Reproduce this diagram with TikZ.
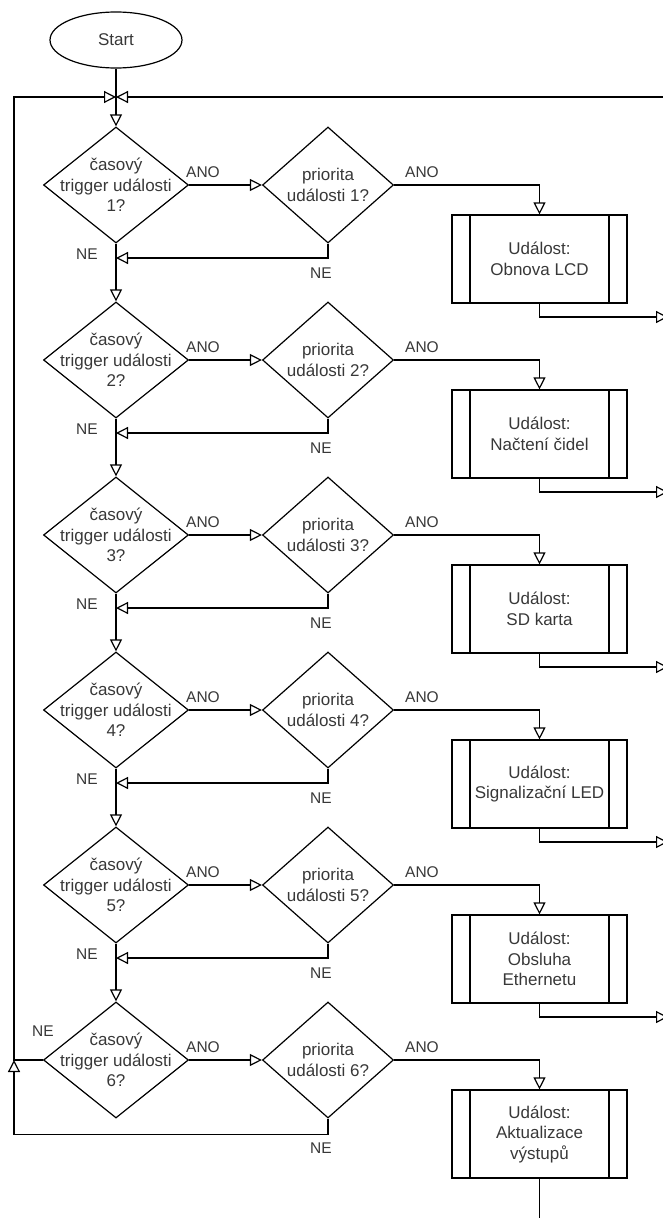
\documentclass[tikz,border=0pt]{standalone}
\usepackage{fontspec}
\setmainfont{Liberation Sans}
\usetikzlibrary{shapes.geometric,arrows.meta}
\begin{document}
\begin{tikzpicture}[x=1pt,y=-1pt,
  line width=1.2pt,
  every node/.style={text=black!78, font=\fontsize{17}{20.5}\selectfont},
  flow/.style={-{Triangle[open,length=12pt,width=12pt]}},
  trig/.style={draw, diamond, minimum width=145pt, minimum height=116pt, inner sep=0pt},
  prio/.style={draw, diamond, minimum width=131pt, minimum height=116pt, inner sep=0pt},
  proc/.style={draw, rectangle, minimum width=175pt, minimum height=88pt, inner sep=0pt, align=center,
    path picture={\draw[line width=1.2pt]
      ([xshift=18pt]path picture bounding box.north west) -- ([xshift=18pt]path picture bounding box.south west)
      ([xshift=-18pt]path picture bounding box.north east) -- ([xshift=-18pt]path picture bounding box.south east);}},
  lbl/.style={font=\fontsize{15.5}{18}\selectfont, inner sep=0pt},
]
\useasboundingbox (0,0) rectangle (662,1218);

\node[draw, ellipse, minimum width=132pt, minimum height=56pt, inner sep=0pt] (start) at (116,40) {Start};
\coordinate (j) at (116,97);
\coordinate (tl) at (14,97);
\coordinate (R) at (670,97);

\foreach \i/\bt in {1/{Událost:\\Obnova LCD},2/{Událost:\\Načtení čidel},3/{Událost:\\SD karta},4/{Událost:\\Signalizační LED},5/{Událost:\\Obsluha\\Ethernetu},6/{Událost:\\Aktualizace\\výstupů}}{
  \pgfmathsetmacro\cy{185+175*(\i-1)}
  \node[trig, label={[align=center]center:{časový\\trigger události\\\i?}}] (t\i) at (116,\cy) {};
  \node[prio, label={[align=center]center:{priorita\\události \i?}}] (p\i) at (328,\cy) {};
  \node[proc] (b\i) at (539.5,\cy+74) {\bt};
  \draw[flow] (t\i) -- (p\i);
  \draw[flow] (p\i.east) -| (b\i.north);
  \node[lbl] (anoA\i) at (203,\cy-13) {ANO};
  \node[lbl] (anoB\i) at (422,\cy-13) {ANO};
  \node[lbl] (neP\i) at (321,\cy+88) {NE};
}

\foreach \i [evaluate=\i as \j using int(\i+1)] in {1,...,5}{
  \pgfmathsetmacro\cy{185+175*(\i-1)}
  \coordinate (m\i) at (116,\cy+73);
  \coordinate (o\i) at (668,\cy+132);
  \draw[flow] (t\i) -- (t\j);
  \draw[flow] (p\i.south) |- (m\i);
  \draw[flow] (b\i.south) |- (o\i);
  \node[lbl] (neT\i) at (87,\cy+69) {NE};
}

\coordinate (l6) at (14,1060);
\coordinate (e6) at (539.5,1222);
\draw[flow] (start) -- (t1);
\draw[flow] (t6.west) -- (l6) -- (tl) -- (j);
\draw[flow] (R) -- (j);
\draw[flow] (p6.south) -- ++(0,16) -| (l6);
\draw (b6.south) -- (e6);
\node[lbl] (neT6) at (43,1031) {NE};
\end{tikzpicture}
\end{document}
